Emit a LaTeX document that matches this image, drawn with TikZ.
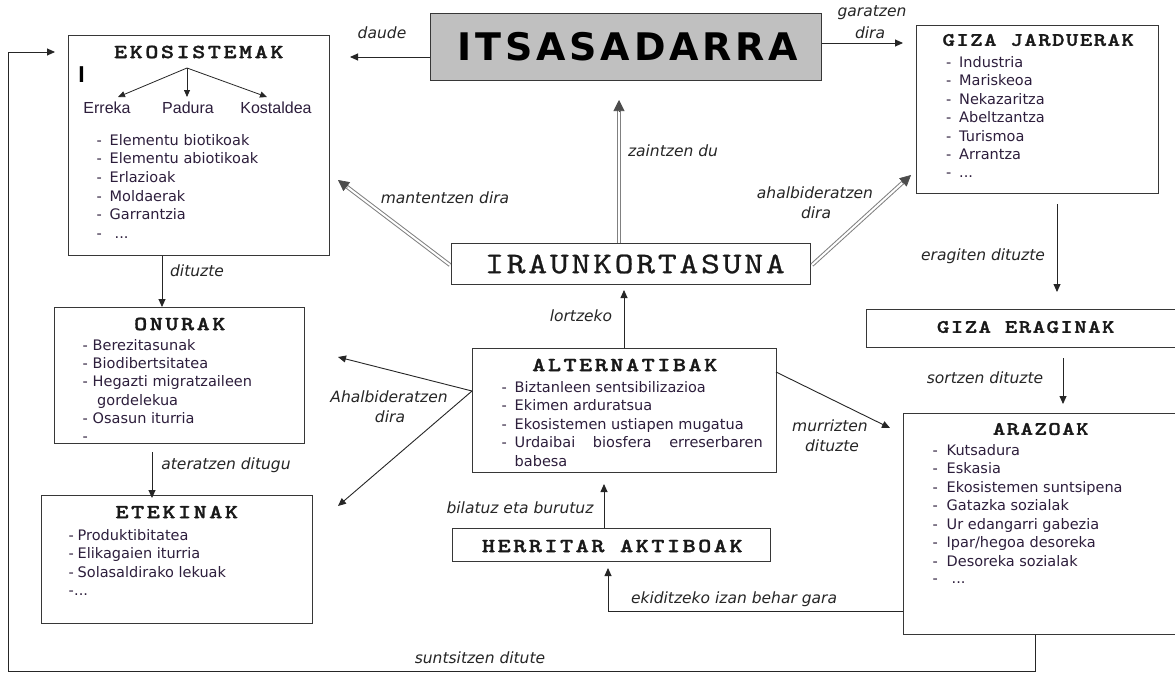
\documentclass[tikz,border=0pt]{standalone}
\usepackage{fontspec}
\setmainfont{DejaVu Sans}
\newfontfamily\ttlfont[LetterSpace=12.5,FakeStretch=1.25,FakeBold=1.5]{lmmonolt10-bold.otf}
\newfontfamily\gizafont[LetterSpace=7.4,FakeStretch=1.25,FakeBold=1.5]{lmmonolt10-bold.otf}
\newfontfamily\irafont[LetterSpace=9,FakeStretch=1.2,FakeBold=0.8]{lmmono10-regular.otf}
\newfontfamily\itsfont[LetterSpace=10]{DejaVu Sans}
\newfontfamily\arialfont{Liberation Sans}
\usetikzlibrary{arrows.meta,calc}
\definecolor{txt}{RGB}{45,30,60}
\definecolor{bord}{RGB}{55,55,55}
\definecolor{itsgray}{RGB}{192,192,192}
\begin{document}
\begin{tikzpicture}[x=1pt,y=-1pt,
  box/.style={draw=bord,line width=1.1pt,rectangle,inner sep=0pt,anchor=north west},
  ttl/.style={font=\ttlfont\fontsize{20}{22}\selectfont,text=black!90,inner sep=0pt},
  gttl/.style={font=\gizafont\fontsize{19}{21}\selectfont,text=black!90,inner sep=0pt},
  lst/.style={font=\fontsize{14.5}{17}\selectfont,text=txt,inner sep=0pt,anchor=base west},
  lbl/.style={font=\itshape\fontsize{15.5}{18}\selectfont,text=black!85,inner sep=0pt},
  sub/.style={font=\arialfont\fontsize{16}{18}\selectfont,text=txt,inner sep=0pt},
  arr/.style={-{Triangle[length=8pt,width=7pt]},line width=0.9pt,draw=black!85},
  sarr/.style={-{Triangle[length=7pt,width=6pt]},line width=0.8pt,draw=black!85},
  dbl/.style={draw=black!50,double=white,double distance=2pt,line width=1pt,shorten >=10pt},
  dtip/.style={-{Triangle[length=11pt,width=11pt]},line width=0.6pt,draw=black!70,fill=black!70}
]
\fill[white] (0,0) rectangle (1175,673);
\clip (0,0) rectangle (1175,673);

% ---------- boxes ----------
\node[box,minimum width=261pt,minimum height=220pt] (eko) at (68,35) {};
\node[box,fill=itsgray,minimum width=391pt,minimum height=67pt] (its) at (430,13) {};
\node[box,minimum width=242pt,minimum height=168pt] (giza) at (916,25) {};
\node[box,minimum width=359pt,minimum height=41pt] (iraun) at (451,243) {};
\node[box,minimum width=320pt,minimum height=38pt] (gizaer) at (866,309) {};
\node[box,minimum width=290pt,minimum height=221pt] (araz) at (903,413) {};
\node[box,minimum width=250pt,minimum height=136pt] (onu) at (54,307) {};
\node[box,minimum width=271pt,minimum height=128pt] (ete) at (41,495) {};
\node[box,minimum width=304pt,minimum height=124pt] (alt) at (472,348) {};
\node[box,minimum width=318pt,minimum height=33pt] (herr) at (452,528) {};

% ---------- titles ----------
\node[font=\itsfont\bfseries\fontsize{38}{40}\selectfont,text=black,inner sep=0pt] (itsT) at (628,46.5) {ITSASADARRA};
\node[font=\irafont\fontsize{30}{32}\selectfont,text=black!90,inner sep=0pt] (iraunT) at (634.9,264) {IRAUNKORTASUNA};
\node[ttl] (ekoT) at (198.75,52) {EKOSISTEMAK};
\node[gttl] (gizaT) at (1038.2,40) {GIZA JARDUERAK};
\node[gttl] (gizaerT) at (1025.7,327) {GIZA ERAGINAK};
\node[gttl] (arazT) at (1040.7,429) {ARAZOAK};
\node[ttl] (onuT) at (179.75,324) {ONURAK};
\node[ttl] (eteT) at (176.75,512) {ETEKINAK};
\node[ttl] (altT) at (624.75,365) {ALTERNATIBAK};
\node[ttl] (herrT) at (612.25,546) {HERRITAR AKTIBOAK};

% ---------- EKOSISTEMAK inner ----------
\node[font=\arialfont\bfseries\fontsize{23}{25}\selectfont,inner sep=0pt,text=black] (imark) at (81.5,74.5) {I};
\node[sub] (erreka) at (107,108) {Erreka};
\node[sub] (padura) at (188,108) {Padura};
\node[sub] (kostal) at (276,108) {Kostaldea};
\coordinate (split) at (187,68);
\coordinate (tErr) at (118,97);
\coordinate (tPad) at (187,97);
\coordinate (tKos) at (267,97);
\draw[sarr] (split) -- (tErr);
\draw[sarr] (split) -- (tPad);
\draw[sarr] (split) -- (tKos);

\foreach \t [count=\i from 0] in {Elementu biotikoak,Elementu abiotikoak,Erlazioak,Moldaerak,Garrantzia}
  \node[lst] (ekoL\i) at (96.5,{145+18.7*\i}) {\makebox[13pt][l]{-}\t};
\node[lst] (ekoL5) at (96.5,238.5) {\makebox[18pt][l]{-}...};

% ---------- GIZA JARDUERAK list ----------
\foreach \t [count=\i from 0] in {Industria,Mariskeoa,Nekazaritza,Abeltzantza,Turismoa,Arrantza}
  \node[lst] (gizaL\i) at (946,{67+18.5*\i}) {\makebox[13pt][l]{-}\t};
\node[lst] (gizaL6) at (946,177.5) {\makebox[13pt][l]{-}...};

% ---------- ONURAK list ----------
\node[lst] (onuL0) at (82.5,350) {\makebox[10pt][l]{-}Berezitasunak};
\node[lst] (onuL1) at (82.5,368.4) {\makebox[10pt][l]{-}Biodibertsitatea};
\node[lst] (onuL2) at (82.5,386.8) {\makebox[10pt][l]{-}Hegazti migratzaileen};
\node[lst] (onuL3) at (97,405.2) {gordelekua};
\node[lst] (onuL4) at (82.5,423.6) {\makebox[10pt][l]{-}Osasun iturria};
\node[lst] (onuL5) at (82.5,441.5) {-};

% ---------- ETEKINAK list ----------
\node[lst] (eteL0) at (68.5,540) {\makebox[9pt][l]{-}Produktibitatea};
\node[lst] (eteL1) at (68.5,558.5) {\makebox[9pt][l]{-}Elikagaien iturria};
\node[lst] (eteL2) at (68.5,577) {\makebox[9pt][l]{-}Solasaldirako lekuak};
\node[lst] (eteL3) at (68.5,595) {\makebox[5.5pt][l]{-}...};

% ---------- ALTERNATIBAK list ----------
\node[lst] (altL0) at (501.5,392) {\makebox[13pt][l]{-}Biztanleen sentsibilizazioa};
\node[lst] (altL1) at (501.5,410.6) {\makebox[13pt][l]{-}Ekimen arduratsua};
\node[lst] (altL2) at (501.5,429.2) {\makebox[13pt][l]{-}Ekosistemen ustiapen mugatua};
\node[lst] (altL3) at (501.5,447.8) {\makebox[13pt][l]{-}\makebox[248pt][s]{Urdaibai\hfill biosfera\hfill erreserbaren}};
\node[lst] (altL4) at (514.5,466.4) {babesa};

% ---------- ARAZOAK list ----------
\foreach \t [count=\i from 0] in {Kutsadura,Eskasia,Ekosistemen suntsipena,Gatazka sozialak,Ur edangarri gabezia,Ipar/hegoa desoreka,Desoreka sozialak}
  \node[lst] (arazL\i) at (932.5,{455+18.5*\i}) {\makebox[14pt][l]{-}\t};
\node[lst] (arazL7) at (932.5,583) {\makebox[19pt][l]{-}...};

% ---------- labels ----------
\node[lbl] (lDaude) at (382,33) {daude};
\node[lbl] (lGar1) at (872,13) {garatzen};
\node[lbl] (lGar2) at (870,33) {dira};
\node[lbl] (lZain) at (673,151) {zaintzen du};
\node[lbl] (lMant) at (445,198) {mantentzen dira};
\node[lbl] (lAhal1) at (815,193) {ahalbideratzen};
\node[lbl] (lAhal2) at (816,213) {dira};
\node[lbl] (lErag) at (983,256) {eragiten dituzte};
\node[lbl] (lSort) at (985,378) {sortzen dituzte};
\node[lbl] (lLor) at (581,316) {lortzeko};
\node[lbl] (lAhB1) at (389,397) {Ahalbideratzen};
\node[lbl] (lAhB2) at (390,417) {dira};
\node[lbl] (lMur1) at (830,426) {murrizten};
\node[lbl] (lMur2) at (832,446) {dituzte};
\node[lbl] (lBil) at (520,508) {bilatuz eta burutuz};
\node[lbl] (lEki) at (734,599) {ekiditzeko izan behar gara};
\node[lbl] (lSun) at (480,658) {suntsitzen ditute};
\node[lbl] (lDit) at (197,271) {dituzte};
\node[lbl] (lAter) at (226,465) {ateratzen ditugu};

% ---------- simple connectors ----------
\coordinate (daudeEnd) at (350,57);
\draw[arr] (daudeEnd -| its.west) -- (daudeEnd);
\coordinate (garEnd) at (903,43);
\draw[arr] (garEnd -| its.east) -- (garEnd);
\coordinate (erS) at (1057,204);
\coordinate (erE) at (1057,292);
\draw[arr] (erS) -- (erE);
\coordinate (soS) at (1063,358);
\coordinate (soE) at (1063,404);
\draw[arr] (soS) -- (soE);
\coordinate (lorTip) at (624,290);
\draw[arr] (lorTip |- alt.north) -- (lorTip);
\coordinate (bilTip) at (604,484);
\draw[arr] (bilTip |- herr.north) -- (bilTip);
\coordinate (altLp) at (472,391);
\coordinate (ahTip1) at (338,357);
\coordinate (ahTip2) at (338,506);
\draw[arr] (altLp) -- (ahTip1);
\draw[arr] (altLp) -- (ahTip2);
\coordinate (murS) at (776,372);
\coordinate (murTip) at (890,428);
\draw[arr] (murS) -- (murTip);
\coordinate (ekA) at (608,611);
\coordinate (ekB) at (608,568);
\draw[arr] (ekA -| araz.west) -- (ekA) -- (ekB);
\coordinate (sA) at (1035,671);
\coordinate (sB) at (8,671);
\coordinate (sC) at (8,52);
\coordinate (sD) at (55,52);
\draw[arr] (sA |- araz.south) -- (sA) -- (sB) -- (sC) -- (sD);
\coordinate (ditX) at (162,0);
\draw[arr] (eko.south -| ditX) -- (onu.north -| ditX);
\coordinate (atS) at (152,452);
\draw[arr,shorten >=-3pt] (atS) -- (ete.north -| atS);

% ---------- double arrows ----------
\coordinate (zainS) at (619,243);
\coordinate (zainE) at (619,100);
\draw[dbl] (zainS) -- (zainE);
\draw[dtip] ($(zainE)!12pt!(zainS)$) -- (zainE);
\coordinate (mantS) at (450,265);
\coordinate (mantE) at (338,180);
\draw[dbl] (mantS) -- (mantE);
\draw[dtip] ($(mantE)!12pt!(mantS)$) -- (mantE);
\coordinate (ahS) at (812,265);
\coordinate (ahE) at (911,175);
\draw[dbl] (ahS) -- (ahE);
\draw[dtip] ($(ahE)!12pt!(ahS)$) -- (ahE);
\end{tikzpicture}
\end{document}
